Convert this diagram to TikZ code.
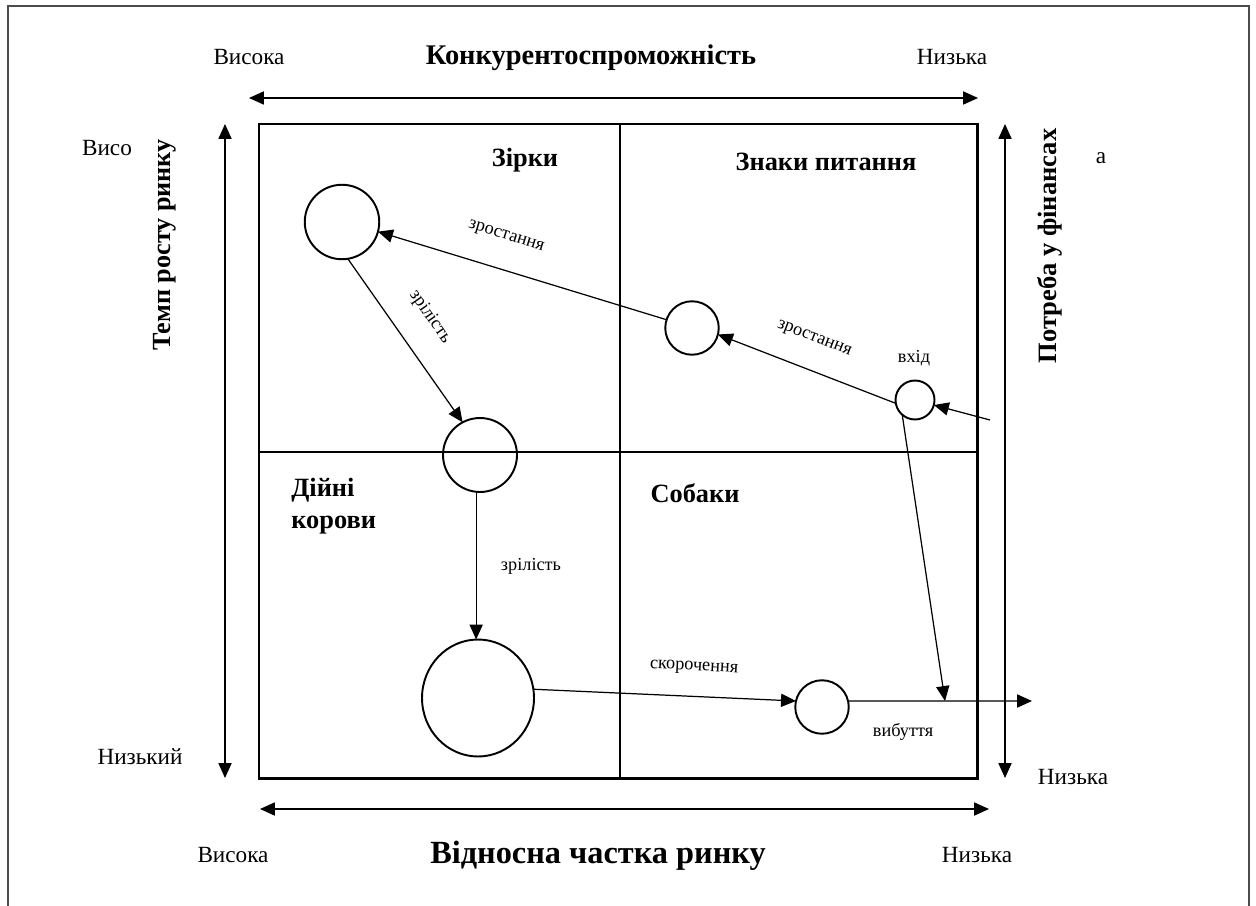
\documentclass[tikz,border=0pt]{standalone}
\usepackage{fontspec}
\setmainfont{Liberation Serif}
\usetikzlibrary{arrows.meta,shapes.geometric}
\begin{document}
\begin{tikzpicture}[x=0.02cm,y=-0.02cm,
  lbl/.style={font=\fontsize{13.2}{15}\selectfont,inner sep=0pt},
  head/.style={font=\fontsize{15}{18}\selectfont\bfseries,inner sep=0pt},
  small/.style={font=\fontsize{10.4}{12}\selectfont,inner sep=0pt},
  bcg/.style={draw,circle,line width=1.1pt,inner sep=0pt,outer sep=0pt},
  axis/.style={line width=0.7pt,{Triangle[length=8.5pt,width=7.5pt]}-{Triangle[length=8.5pt,width=7.5pt]}},
  flow/.style={line width=0.7pt,-{Triangle[length=8.5pt,width=7.5pt]}}]
\useasboundingbox (0,0) rectangle (1256,905);
% outer frame
\draw[line width=1.1pt,color=black!70] (8,915) -- (8,6) -- (1249,6) -- (1249,915);
% main square
\draw[line width=1.7pt] (259,124) rectangle (977,778);
\draw[line width=0.6pt] (620,124) -- (620,778);
\draw[line width=0.6pt] (259,452) -- (977,452);
% axes
\coordinate (tl) at (249,98); \coordinate (tr) at (978,98);
\coordinate (lt) at (225,124); \coordinate (lb) at (225,778);
\coordinate (rt) at (1005,124); \coordinate (rb) at (1005,778);
\coordinate (bl) at (260,809); \coordinate (br) at (989,809);
\draw[axis] (tl) -- (tr);
\draw[axis] (lt) -- (lb);
\draw[axis] (rt) -- (rb);
\draw[axis] (bl) -- (br);
% axis texts
\node[lbl] (t1) at (249,57) {Висока};
\node[font=\fontsize{16.2}{18}\selectfont\bfseries,inner sep=0pt] (t2) at (591,58) {Конкурентоспроможність};
\node[lbl] (t3) at (952,57) {Низька};
\node[lbl] (l1) at (107,148) {Висо};
\node[font=\fontsize{14.9}{18}\selectfont\bfseries,inner sep=0pt,rotate=90] (l2) at (165,245) {Темп росту ринку};
\node[lbl] (l3) at (140,757) {Низький};
\node[font=\fontsize{15.1}{18}\selectfont\bfseries,inner sep=0pt,rotate=90] (r2) at (1050,246) {Потреба у фінансах};
\node[lbl] (r1) at (1101,158) {а};
\node[lbl] (r3) at (1073,777) {Низька};
\node[lbl] (b1) at (233,855) {Висока};
\node[font=\fontsize{18.4}{20}\selectfont\bfseries,inner sep=0pt] (b2) at (598,856) {Відносна частка ринку};
\node[lbl] (b3) at (977,855) {Низька};
% quadrant labels
\node[head] (q1) at (525,160) {Зірки};
\node[head] (q2) at (826,162) {Знаки питання};
\node[head,align=left,anchor=west] (q3) at (291,506) {Дійні\\корови};
\node[head] (q4) at (695,493) {Собаки};
% circles
\node[bcg,minimum size=1.49cm] (C1) at (342,222) {};
\node[bcg,minimum size=1.07cm] (C2) at (692,328) {};
\node[bcg,minimum size=0.78cm] (C3) at (915,400) {};
\node[bcg,minimum size=1.48cm] (C4) at (480,455) {};
\node[bcg,ellipse,minimum width=2.24cm,minimum height=2.34cm] (C5) at (478,698) {};
\node[bcg,minimum size=1.07cm] (C6) at (822,707) {};
% connectors
\coordinate (in) at (990,420);
\coordinate (out) at (1032,701);
\coordinate (ex) at (945,701);
\draw[flow] (in) -- (C3);
\draw[flow] (C3.190) -- (C2.-14);
\draw[flow] (C2.162) -- (C1.-15);
\draw[flow] (C1.-81) -- (C4.118);
\draw[flow] (C4.-96) -- (C4.-96 |- C5.north);
\draw[flow] (C5.9) -- (C6.167);
\draw[flow] (C6.13) -- (out);
\draw[flow] (C3.-131) -- (ex);
% connector labels
\node[small,rotate=-17] (a1) at (506,237) {зростання};
\node[small,rotate=-21] (a2) at (814,339) {зростання};
\node[small] (a3) at (914,358) {вхід};
\node[small,rotate=-55] (a4) at (430,317) {зрілість};
\node[small] (a5) at (531,566) {зрілість};
\node[small,rotate=-3] (a6) at (694,668) {скорочення};
\node[small] (a7) at (903,732) {вибуття};
\end{tikzpicture}
\end{document}
